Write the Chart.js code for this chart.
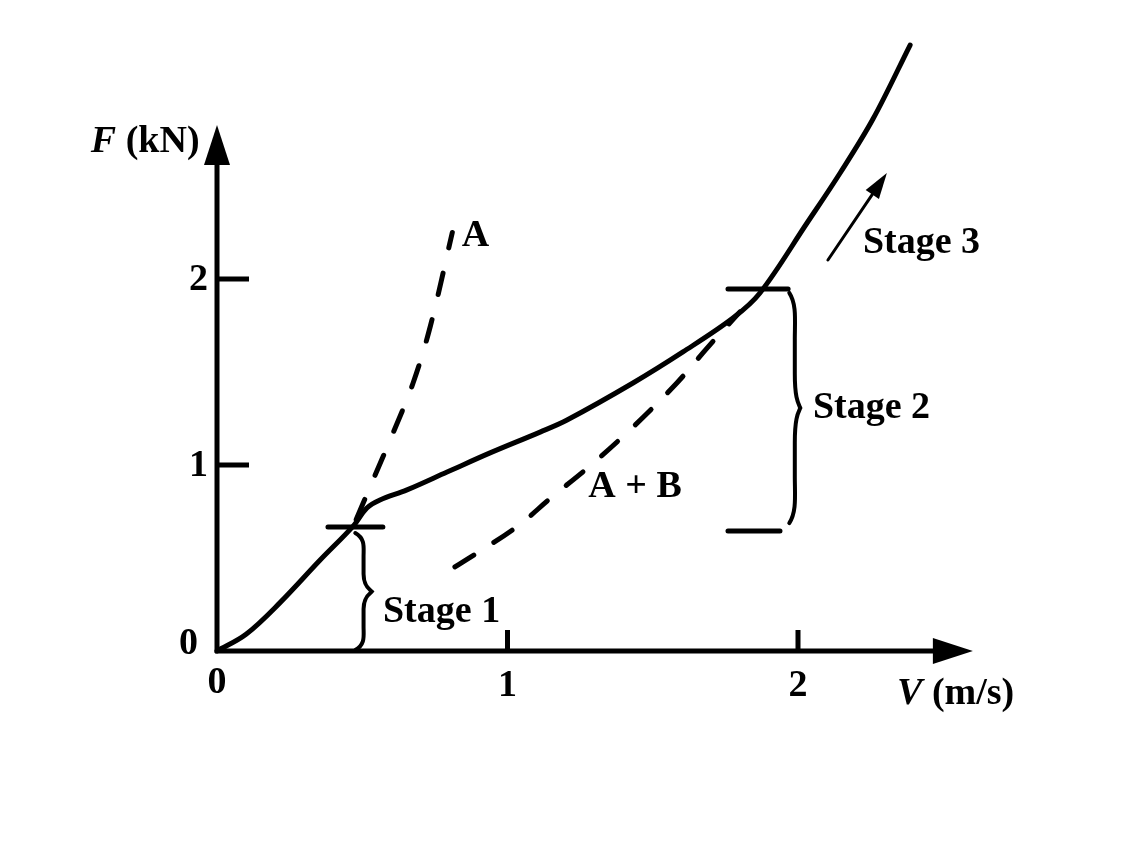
<!DOCTYPE html>
<html>
<head>
<meta charset="utf-8">
<script src="https://cdn.jsdelivr.net/npm/chart.js@4.4.1/dist/chart.umd.min.js"></script>
<style>
  html, body { margin: 0; padding: 0; background: #ffffff; }
  canvas { display: block; }
</style>
</head>
<body>
<canvas id="c" width="1140" height="841"></canvas>
<script>
// ---- data (V in m/s, F in kN) ----
const solidV = [0, 0.10, 0.217, 0.355, 0.468, 0.516, 0.561, 0.654, 0.792, 0.940, 1.112, 1.205, 1.432, 1.604, 1.776, 1.869, 2.031, 2.145, 2.258, 2.386];
const solidF = [0, 0.09, 0.260, 0.489, 0.670, 0.769, 0.812, 0.866, 0.962, 1.065, 1.177, 1.242, 1.441, 1.608, 1.790, 1.925, 2.301, 2.570, 2.860, 3.258];

const curveAV = [0.468, 0.537, 0.606, 0.675, 0.735, 0.810];
const curveAF = [0.667, 0.919, 1.172, 1.441, 1.750, 2.250];

const curveABV = [0.819, 1.026, 1.153, 1.284, 1.432, 1.583, 1.690, 1.800];
const curveABF = [0.452, 0.661, 0.828, 0.995, 1.204, 1.441, 1.634, 1.823];

const xTickValues = [1, 2];
const xTickLabels = ['1', '2'];
const yTickValues = [1, 2];
const yTickLabels = ['1', '2'];
const originLabel = '0';

const xAxisTitleItalic = 'V';
const xAxisTitleRest = ' (m/s)';
const yAxisTitleItalic = 'F';
const yAxisTitleRest = ' (kN)';

// stage markers (data units)
const stageLines = [
  { v1: 0.382, v2: 0.571, f: 0.667 },
  { v1: 1.759, v2: 1.966, f: 1.946 },
  { v1: 1.759, v2: 1.938, f: 0.645 }
];
const braces = [
  { v: 0.476, f1: 0.634, f2: 0.005, tipV: 0.533 },
  { v: 1.970, f1: 1.925, f2: 0.688, tipV: 2.008 }
];
const stage3Arrow = { v1: 2.103, f1: 2.102, v2: 2.306, f2: 2.570 };

const textLabels = [
  { text: 'A', v: 0.890, f: 2.177 },
  { text: 'A + B', v: 1.439, f: 0.828 },
  { text: 'Stage 1', v: 0.773, f: 0.156 },
  { text: 'Stage 2', v: 2.253, f: 1.253 },
  { text: 'Stage 3', v: 2.425, f: 2.140 }
];

const FONT_FAMILY = '"Liberation Serif", "Times New Roman", "DejaVu Serif", serif';
const FONT_SIZE = 38;

function toPts(xs, ys) { return xs.map((x, i) => ({ x: x, y: ys[i] })); }

const annotationPlugin = {
  id: 'diagram',
  afterDatasetsDraw(chart) {
    const ctx = chart.ctx;
    const xs = chart.scales.x, ys = chart.scales.y;
    const px = v => xs.getPixelForValue(v);
    const py = f => ys.getPixelForValue(f);
    const X0 = px(0), Y0 = py(0);

    ctx.save();
    ctx.strokeStyle = '#000';
    ctx.fillStyle = '#000';
    ctx.lineCap = 'butt';

    // axes
    const yTip = py(2.828), xTip = px(2.602);
    const headLen = 40, headHalf = 13;
    ctx.lineWidth = 5;
    ctx.beginPath();
    ctx.moveTo(X0, Y0 + 2);
    ctx.lineTo(X0, yTip + headLen - 2);
    ctx.moveTo(X0 - 2, Y0);
    ctx.lineTo(xTip - headLen + 2, Y0);
    ctx.stroke();
    ctx.beginPath();
    ctx.moveTo(X0, yTip);
    ctx.lineTo(X0 - headHalf, yTip + headLen);
    ctx.lineTo(X0 + headHalf, yTip + headLen);
    ctx.closePath();
    ctx.fill();
    ctx.beginPath();
    ctx.moveTo(xTip, Y0);
    ctx.lineTo(xTip - headLen, Y0 - headHalf);
    ctx.lineTo(xTip - headLen, Y0 + headHalf);
    ctx.closePath();
    ctx.fill();

    // ticks
    ctx.lineWidth = 5;
    ctx.beginPath();
    yTickValues.forEach(v => { ctx.moveTo(X0, py(v)); ctx.lineTo(X0 + 32, py(v)); });
    xTickValues.forEach(v => { ctx.moveTo(px(v), Y0); ctx.lineTo(px(v), Y0 - 21); });
    ctx.stroke();

    // tick labels
    ctx.font = 'bold ' + FONT_SIZE + 'px ' + FONT_FAMILY;
    ctx.textBaseline = 'alphabetic';
    ctx.textAlign = 'center';
    xTickValues.forEach((v, i) => ctx.fillText(xTickLabels[i], px(v), Y0 + 45));
    ctx.fillText(originLabel, X0, Y0 + 42);
    ctx.textAlign = 'right';
    ctx.textBaseline = 'middle';
    yTickValues.forEach((v, i) => ctx.fillText(yTickLabels[i], X0 - 9, py(v) + 1));
    ctx.fillText(originLabel, X0 - 19, Y0 - 7);

    // axis titles
    ctx.textBaseline = 'alphabetic';
    ctx.textAlign = 'left';
    const boldFont = 'bold ' + FONT_SIZE + 'px ' + FONT_FAMILY;
    const italFont = 'italic bold ' + FONT_SIZE + 'px ' + FONT_FAMILY;
    ctx.font = boldFont;
    const wRestY = ctx.measureText(yAxisTitleRest).width;
    ctx.font = italFont;
    const wItY = ctx.measureText(yAxisTitleItalic).width;
    const yTitleRight = px(-0.060), yTitleBase = py(2.683);
    ctx.fillText(yAxisTitleItalic, yTitleRight - wRestY - wItY, yTitleBase);
    ctx.font = boldFont;
    ctx.fillText(yAxisTitleRest, yTitleRight - wRestY, yTitleBase);
    const xTitleLeft = px(2.341), xTitleBase = py(-0.285);
    ctx.font = italFont;
    const wItX = ctx.measureText(xAxisTitleItalic).width;
    ctx.fillText(xAxisTitleItalic, xTitleLeft, xTitleBase);
    ctx.font = boldFont;
    ctx.fillText(xAxisTitleRest, xTitleLeft + wItX, xTitleBase);

    // stage lines
    ctx.lineWidth = 5;
    ctx.lineCap = 'round';
    ctx.beginPath();
    stageLines.forEach(s => { ctx.moveTo(px(s.v1), py(s.f)); ctx.lineTo(px(s.v2), py(s.f)); });
    ctx.stroke();

    // braces
    ctx.lineWidth = 4;
    braces.forEach(b => {
      const x0 = px(b.v), tip = px(b.tipV);
      const top = py(b.f1), bot = py(b.f2);
      const mid = (top + bot) / 2;
      const body = x0 + (tip - x0) * 0.5;
      const H = bot - top;
      ctx.beginPath();
      ctx.moveTo(x0, top);
      ctx.bezierCurveTo(body + 2, top + 0.05 * H, body, top + 0.12 * H, body, top + 0.2 * H);
      ctx.lineTo(body, mid - 0.15 * H);
      ctx.bezierCurveTo(body, mid - 0.04 * H, tip - 2, mid - 0.02 * H, tip, mid);
      ctx.bezierCurveTo(tip - 2, mid + 0.02 * H, body, mid + 0.04 * H, body, mid + 0.15 * H);
      ctx.lineTo(body, bot - 0.2 * H);
      ctx.bezierCurveTo(body, bot - 0.12 * H, body + 2, bot - 0.05 * H, x0, bot);
      ctx.stroke();
    });

    // stage 3 arrow
    const ax1 = px(stage3Arrow.v1), ay1 = py(stage3Arrow.f1);
    const ax2 = px(stage3Arrow.v2), ay2 = py(stage3Arrow.f2);
    const ang = Math.atan2(ay2 - ay1, ax2 - ax1);
    const hl = 26, hw = 8;
    ctx.lineWidth = 3;
    ctx.lineCap = 'round';
    ctx.beginPath();
    ctx.moveTo(ax1, ay1);
    ctx.lineTo(ax2 - hl * 0.8 * Math.cos(ang), ay2 - hl * 0.8 * Math.sin(ang));
    ctx.stroke();
    ctx.beginPath();
    ctx.moveTo(ax2, ay2);
    ctx.lineTo(ax2 - hl * Math.cos(ang) + hw * Math.sin(ang), ay2 - hl * Math.sin(ang) - hw * Math.cos(ang));
    ctx.lineTo(ax2 - hl * Math.cos(ang) - hw * Math.sin(ang), ay2 - hl * Math.sin(ang) + hw * Math.cos(ang));
    ctx.closePath();
    ctx.fill();

    // text labels
    ctx.font = boldFont;
    ctx.textAlign = 'center';
    ctx.textBaseline = 'alphabetic';
    textLabels.forEach(t => ctx.fillText(t.text, px(t.v), py(t.f)));

    ctx.restore();
  }
};

new Chart(document.getElementById('c'), {
  type: 'line',
  data: {
    datasets: [
      {
        label: 'F',
        data: toPts(solidV, solidF),
        borderColor: '#000',
        borderWidth: 5,
        borderCapStyle: 'round',
        borderJoinStyle: 'round',
        tension: 0.35,
        pointRadius: 0,
        fill: false,
        clip: false
      },
      {
        label: 'A',
        data: toPts(curveAV, curveAF),
        borderColor: '#000',
        borderWidth: 5,
        borderDash: [22, 26],
        borderDashOffset: -8,
        borderCapStyle: 'round',
        tension: 0.35,
        pointRadius: 0,
        fill: false,
        clip: false
      },
      {
        label: 'A + B',
        data: toPts(curveABV, curveABF),
        borderColor: '#000',
        borderWidth: 5,
        borderDash: [22, 24],
        borderCapStyle: 'round',
        tension: 0.35,
        pointRadius: 0,
        fill: false,
        clip: false
      }
    ]
  },
  options: {
    responsive: false,
    animation: false,
    events: [],
    layout: { padding: { left: 217, right: 138.65, top: 29.76, bottom: 190 } },
    scales: {
      x: { type: 'linear', min: 0, max: 2.7, display: false },
      y: { type: 'linear', min: 0, max: 3.34, display: false }
    },
    plugins: {
      legend: { display: false },
      tooltip: { enabled: false },
      title: { display: false }
    }
  },
  plugins: [annotationPlugin]
});
</script>
</body>
</html>
